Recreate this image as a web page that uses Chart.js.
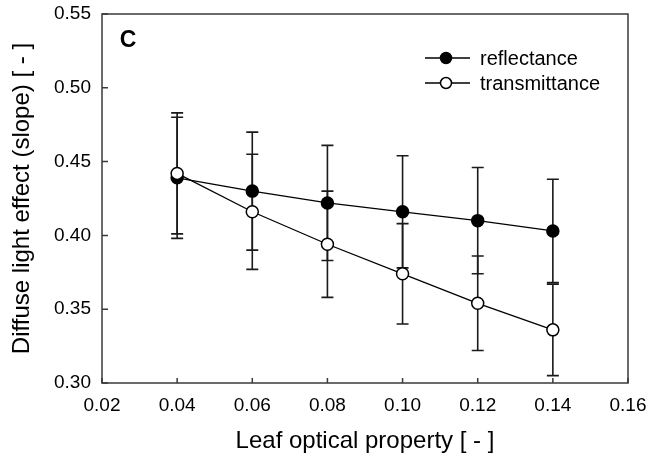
<!DOCTYPE html>
<html>
<head>
<meta charset="utf-8">
<script src="https://cdn.jsdelivr.net/npm/chart.js@4/dist/chart.umd.min.js"></script>
<style>
html,body{margin:0;padding:0;background:#fff;}
#wrap{position:relative;width:648px;height:461px;}
</style>
</head>
<body>
<div id="wrap"><canvas id="c"></canvas></div>
<script>
// ---- data ----
const leafProperty = [0.04, 0.06, 0.08, 0.10, 0.12, 0.14];
const reflectance = [0.439, 0.430, 0.422, 0.416, 0.410, 0.403];
const reflectanceErr = [0.041, 0.040, 0.039, 0.038, 0.036, 0.035];
const transmittance = [0.442, 0.416, 0.394, 0.374, 0.354, 0.336];
const transmittanceErr = [0.041, 0.039, 0.036, 0.034, 0.032, 0.031];
const xTicks = [0.02, 0.04, 0.06, 0.08, 0.10, 0.12, 0.14, 0.16];
const yTicks = [0.30, 0.35, 0.40, 0.45, 0.50, 0.55];
const seriesNames = ['reflectance', 'transmittance'];
const panelLabel = 'C';
const xTitle = 'Leaf optical property [ - ]';
const yTitle = 'Diffuse light effect (slope) [ - ]';

const FONT = "'Liberation Sans', Arial, Helvetica, sans-serif";
const INK = '#000';
const AXIS = '#3a3a3a';

const toPts = (xs, ys) => xs.map((x, i) => ({x: x, y: ys[i]}));

const errorBars = {
  id: 'errorBars',
  beforeDatasetsDraw(chart) {
    const ctx = chart.ctx;
    const xs = chart.scales.x, ys = chart.scales.y;
    ctx.save();
    ctx.strokeStyle = '#1a1a1a';
    ctx.lineWidth = 1.6;
    chart.data.datasets.forEach(ds => {
      ds.data.forEach((p, i) => {
        const e = ds.errors[i];
        const px = xs.getPixelForValue(p.x);
        const yTop = ys.getPixelForValue(p.y + e);
        const yBot = ys.getPixelForValue(p.y - e);
        ctx.beginPath();
        ctx.moveTo(px, yTop); ctx.lineTo(px, yBot);
        ctx.moveTo(px - 6, yTop); ctx.lineTo(px + 6, yTop);
        ctx.moveTo(px - 6, yBot); ctx.lineTo(px + 6, yBot);
        ctx.stroke();
      });
    });
    ctx.restore();
  }
};

const frame = {
  id: 'frame',
  afterDraw(chart) {
    const ctx = chart.ctx;
    const a = chart.chartArea;
    const xs = chart.scales.x, ys = chart.scales.y;
    ctx.save();
    ctx.strokeStyle = AXIS;
    ctx.lineWidth = 1.5;
    ctx.strokeRect(a.left, a.top, a.right - a.left, a.bottom - a.top);
    ctx.beginPath();
    xTicks.forEach(v => {
      const px = xs.getPixelForValue(v);
      ctx.moveTo(px, a.bottom); ctx.lineTo(px, a.bottom - 5);
    });
    yTicks.forEach(v => {
      const py = ys.getPixelForValue(v);
      ctx.moveTo(a.left, py); ctx.lineTo(a.left + 6, py);
    });
    ctx.stroke();

    // panel label
    ctx.fillStyle = INK;
    ctx.font = 'bold 23px ' + FONT;
    ctx.textAlign = 'center';
    ctx.textBaseline = 'middle';
    ctx.fillText(panelLabel, a.left + 26, a.top + 27);

    // legend
    const rows = [a.top + 44, a.top + 69];
    ctx.font = '20px ' + FONT;
    ctx.textAlign = 'left';
    seriesNames.forEach((name, k) => {
      const ds = chart.data.datasets.find(d => d.label === name);
      const y = rows[k];
      ctx.strokeStyle = INK;
      ctx.lineWidth = 1.3;
      ctx.beginPath();
      ctx.moveTo(a.left + 323, y); ctx.lineTo(a.left + 368, y);
      ctx.stroke();
      ctx.beginPath();
      ctx.arc(a.left + 344, y, 5.5, 0, Math.PI * 2);
      ctx.fillStyle = ds.pointBackgroundColor;
      ctx.fill();
      ctx.lineWidth = 1.5;
      ctx.stroke();
      ctx.fillStyle = INK;
      ctx.fillText(name, a.left + 378, y + 1);
    });
    ctx.restore();
  }
};

new Chart(document.getElementById('c'), {
  type: 'line',
  data: {
    datasets: [
      {
        label: seriesNames[0],
        data: toPts(leafProperty, reflectance),
        errors: reflectanceErr,
        borderColor: INK, borderWidth: 1.3,
        pointBackgroundColor: '#000', pointBorderColor: '#000',
        pointRadius: 6, pointBorderWidth: 1.5, pointHoverRadius: 6,
        order: 2, tension: 0, fill: false
      },
      {
        label: seriesNames[1],
        data: toPts(leafProperty, transmittance),
        errors: transmittanceErr,
        borderColor: INK, borderWidth: 1.3,
        pointBackgroundColor: '#fff', pointBorderColor: '#000',
        pointRadius: 6, pointBorderWidth: 1.5, pointHoverRadius: 6,
        order: 1, tension: 0, fill: false
      }
    ]
  },
  options: {
    responsive: true,
    maintainAspectRatio: false,
    animation: false,
    events: [],
    layout: { padding: { top: 14, right: 20, left: 0, bottom: 0 } },
    plugins: { legend: { display: false }, tooltip: { enabled: false } },
    scales: {
      x: {
        type: 'linear', min: 0.02, max: 0.16,
        afterBuildTicks: s => { s.ticks = xTicks.map(v => ({value: v})); },
        afterFit: s => { s.height = 78; s.paddingLeft = 0; s.paddingRight = 0; },
        grid: { display: false, drawTicks: false },
        border: { display: false },
        ticks: {
          color: INK, padding: 11, maxRotation: 0, autoSkip: false,
          font: { family: FONT, size: 19 },
          callback: v => v.toFixed(2)
        },
        title: {
          display: true, text: xTitle, color: INK,
          font: { family: FONT, size: 24 }, padding: { top: 0, bottom: 5 }
        }
      },
      y: {
        type: 'linear', min: 0.30, max: 0.55,
        afterBuildTicks: s => { s.ticks = yTicks.map(v => ({value: v})); },
        afterFit: s => { s.width = 102; s.paddingTop = 0; s.paddingBottom = 0; },
        grid: { display: false, drawTicks: false },
        border: { display: false },
        ticks: {
          color: INK, padding: 11, autoSkip: false,
          font: { family: FONT, size: 19 },
          callback: v => v.toFixed(2)
        },
        title: {
          display: true, text: yTitle, color: INK,
          font: { family: FONT, size: 24 }, padding: { top: 8, bottom: 0 }
        }
      }
    }
  },
  plugins: [errorBars, frame]
});
</script>
</body>
</html>
